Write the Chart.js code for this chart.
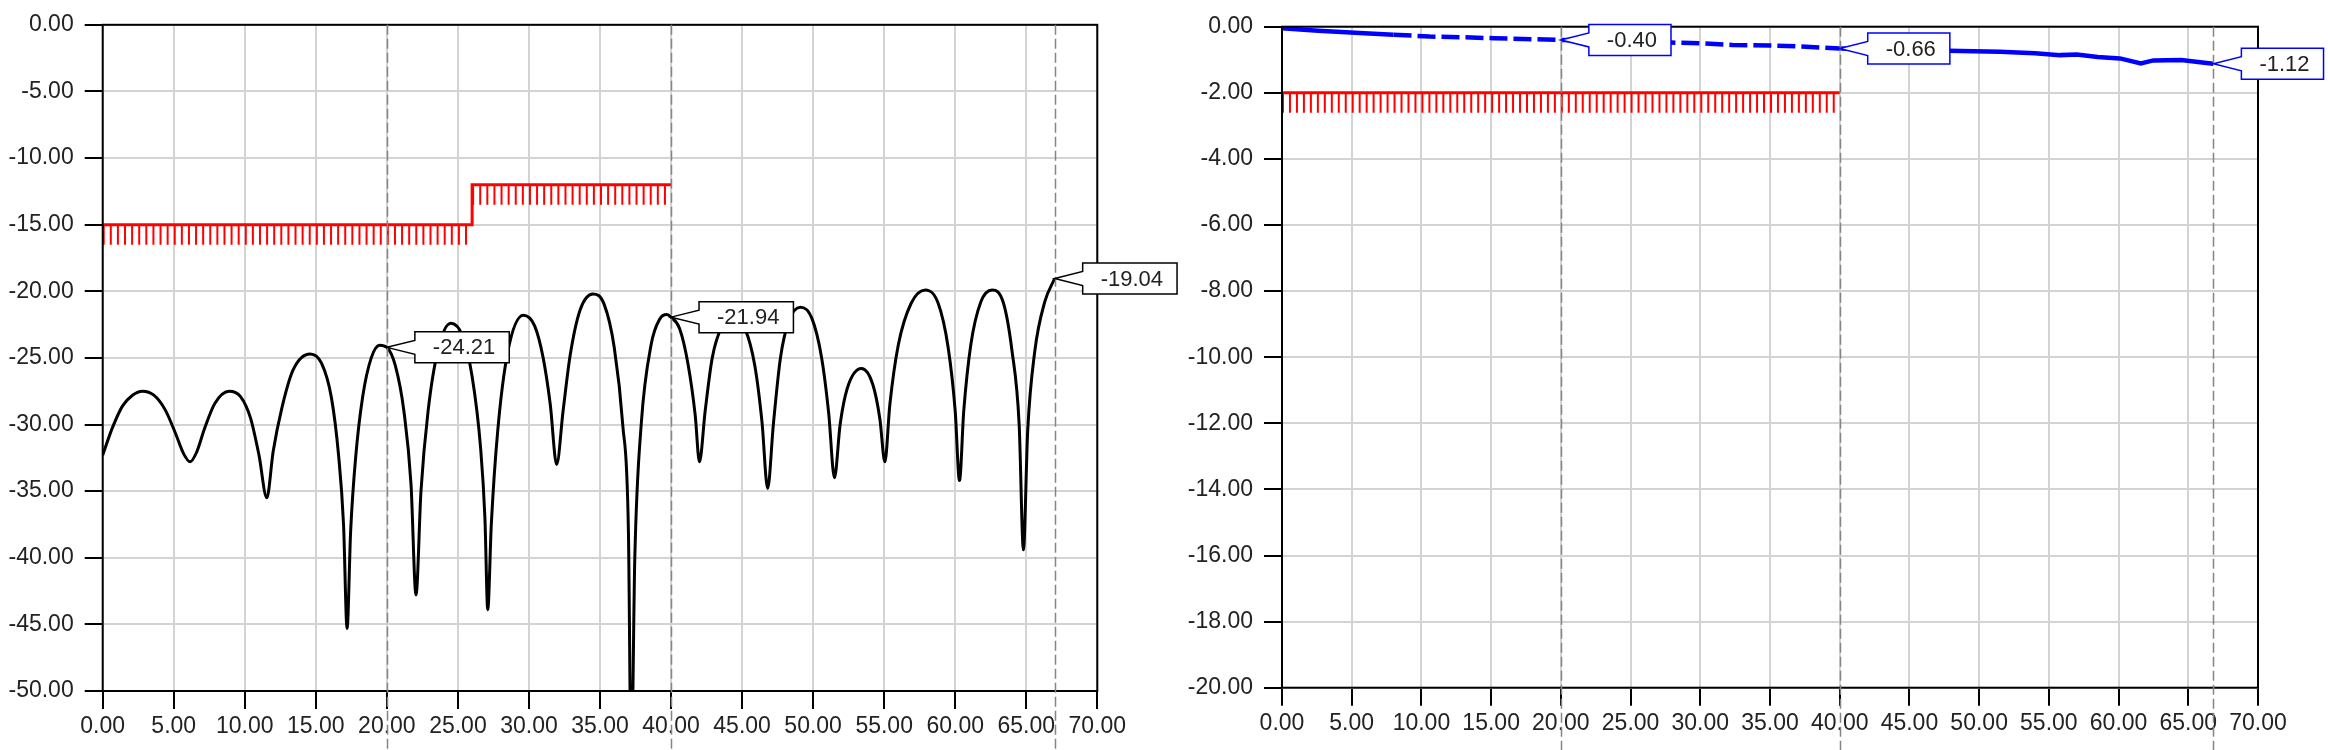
<!DOCTYPE html>
<html>
<head>
<meta charset="utf-8">
<script src="https://cdn.jsdelivr.net/npm/chart.js@4.4.0/dist/chart.umd.min.js"></script>
<style>
  body { margin: 0; background: #fff; }
  #wrap { position: relative; width: 2328px; height: 750px; overflow: hidden; }
  #left { position: absolute; left: 0; top: 0; }
  #right { position: absolute; left: 1180px; top: 0; }
</style>
</head>
<body>
<div id="wrap">
  <canvas id="left" width="1180" height="750"></canvas>
  <canvas id="right" width="1148" height="750"></canvas>
</div>
<script>
// ---- data ----

// shared x axis (frequency)
var freqTicks = [0, 5, 10, 15, 20, 25, 30, 35, 40, 45, 50, 55, 60, 65, 70];

// left chart (black trace + red mask)
var rlTicks = [0, -5, -10, -15, -20, -25, -30, -35, -40, -45, -50];
var rlFreq = [
  0, 0.7, 1.4, 2.1, 2.8, 3.6, 4.4, 5.1, 5.7, 6.15,
  6.6, 7.2, 7.9, 8.9, 9.7, 10.4, 11.0, 11.55,
  12.0, 12.6, 13.4, 14.6, 15.4, 16.1, 16.6, 16.95, 17.2,
  17.45, 17.8, 18.3, 18.9, 19.5, 20.0, 20.6, 21.2, 21.7, 22.05,
  22.4, 22.9, 23.6, 24.5, 25.3, 26.0, 26.6, 26.9, 27.1,
  27.35, 27.8, 28.5, 29.6, 30.4, 31.0, 31.5, 31.95,
  32.4, 32.9, 33.6, 34.5, 35.3, 36.0, 36.6, 37.0, 37.2,
  37.45, 37.9, 38.6, 39.2, 39.7, 40.0, 40.6, 41.2, 41.7, 42.0,
  42.4, 42.9, 43.6, 44.4, 45.2, 45.9, 46.4, 46.8,
  47.2, 47.7, 48.3, 49.1, 49.9, 50.6, 51.1, 51.5,
  51.9, 52.4, 53.4, 54.2, 54.7, 55.05,
  55.4, 56.0, 56.9, 57.9, 58.8, 59.5, 60.0, 60.3,
  60.6, 61.1, 61.8, 62.6, 63.4, 64.0, 64.5, 64.8,
  65.1, 65.6, 66.3, 67.0
];
var rlValue = [
  -32.3, -30.2, -28.6, -27.8, -27.5, -27.8, -28.9, -30.6, -32.2, -32.8,
  -32.1, -30.2, -28.4, -27.5, -27.9, -29.5, -32.3, -35.5,
  -32.0, -28.8, -25.9, -24.7, -25.4, -28.0, -32.3, -37.5, -45.3,
  -38.0, -32.5, -27.9, -25.0, -24.05, -24.21, -25.6, -29.0, -34.5, -42.8,
  -35.0, -29.0, -24.4, -22.4, -23.3, -26.4, -31.8, -37.0, -43.9,
  -37.5, -30.5, -24.6, -21.8, -22.6, -25.0, -28.5, -33.0,
  -29.0, -24.8, -21.4, -20.2, -21.0, -24.2, -30.0, -38.0, -56.0,
  -40.0, -30.0, -24.0, -22.1, -21.75, -21.94, -22.8, -25.5, -29.3, -32.8,
  -29.0, -25.0, -22.6, -22.0, -22.8, -25.6, -29.8, -34.8,
  -30.0, -25.0, -22.2, -21.2, -22.0, -25.0, -29.2, -34.0,
  -30.0, -27.3, -25.8, -27.0, -29.6, -32.8,
  -28.5, -24.0, -20.9, -19.9, -20.9, -24.2, -29.0, -34.2,
  -29.0, -24.0, -20.8, -19.9, -20.9, -24.5, -30.0, -39.4,
  -30.5, -24.5, -20.8, -19.04
];
var rlMaskFreq = [0, 26, 26, 40];
var rlMaskValue = [-15, -15, -12, -12];
var rlMarkerFreq = [20, 40, 67];
var rlMarkerValue = [-24.21, -21.94, -19.04];

// right chart (blue trace + red mask)
var ilTicks = [0, -2, -4, -6, -8, -10, -12, -14, -16, -18, -20];
var ilFreq = [
  0, 2.6, 5.9, 8, 10.6, 13, 15.2, 18, 20, 24, 27.9, 30, 32.3, 35, 37.2,
  40, 43, 47.8, 51.5, 54, 55.8, 57, 58.5, 60.1, 61.6, 62.5, 64.5, 66, 66.8
];
var ilValue = [
  -0.05, -0.12, -0.20, -0.24, -0.30, -0.32, -0.35, -0.38, -0.40, -0.44, -0.48, -0.50, -0.55, -0.57, -0.60,
  -0.66, -0.69, -0.73, -0.76, -0.80, -0.86, -0.84, -0.92, -0.96, -1.11, -1.02, -1.01, -1.08, -1.12
];
var ilMaskFreq = [0, 40];
var ilMaskValue = [-2, -2];
var ilMarkerFreq = [20, 40, 66.8];
var ilMarkerValue = [-0.40, -0.66, -1.12];


var FONT = '"Liberation Sans", Arial, sans-serif';
Chart.defaults.font.family = FONT;

function zip(xs, ys) {
  return xs.map(function (x, i) { return { x: x, y: ys[i] }; });
}

// hatches under the mask, frame, dashed markers and callouts
function decor(maskX, maskY, markX, markY, boxColor) {
  return {
    id: 'decor',
    afterDatasetsDraw: function (chart) {
      var ctx = chart.ctx;
      var area = chart.chartArea;
      var xs = chart.scales.x;
      var ys = chart.scales.y;

      ctx.save();
      ctx.beginPath();
      ctx.rect(area.left, area.top, area.right - area.left, area.bottom - area.top);
      ctx.clip();
      ctx.strokeStyle = '#ff0000';
      ctx.lineWidth = 2;
      for (var i = 0; i < maskX.length - 1; i++) {
        if (maskY[i] !== maskY[i + 1]) continue;
        var py = ys.getPixelForValue(maskY[i]);
        for (var f = maskX[i]; f < maskX[i + 1] - 0.01; f += 0.5) {
          var px = xs.getPixelForValue(f) + 1;
          ctx.beginPath();
          ctx.moveTo(px, py);
          ctx.lineTo(px, py + 20);
          ctx.stroke();
        }
      }
      ctx.restore();

      // frame
      ctx.save();
      ctx.strokeStyle = '#000';
      ctx.lineWidth = 2;
      ctx.strokeRect(area.left, area.top, area.right - area.left, area.bottom - area.top);
      ctx.restore();

      // dashed marker lines
      ctx.save();
      ctx.strokeStyle = '#858585';
      ctx.lineWidth = 1.5;
      ctx.setLineDash([10, 4]);
      markX.forEach(function (m) {
        var px = Math.round(xs.getPixelForValue(m)) + 0.5;
        ctx.beginPath();
        ctx.moveTo(px, area.top);
        ctx.lineTo(px, chart.height);
        ctx.stroke();
      });
      ctx.restore();

      // callouts
      ctx.save();
      ctx.font = '22px ' + FONT;
      markX.forEach(function (m, k) {
        var px = xs.getPixelForValue(m);
        var py = ys.getPixelForValue(markY[k]);
        var txt = markY[k].toFixed(2);
        var bw = ctx.measureText(txt).width + 32;
        var bh = 31;
        var bx = px + 28;
        var by = py - bh / 2;
        ctx.beginPath();
        ctx.moveTo(bx, py - 7);
        ctx.lineTo(bx, by);
        ctx.lineTo(bx + bw, by);
        ctx.lineTo(bx + bw, by + bh);
        ctx.lineTo(bx, by + bh);
        ctx.lineTo(bx, py + 7);
        ctx.lineTo(px, py);
        ctx.closePath();
        ctx.fillStyle = '#fff';
        ctx.fill();
        ctx.strokeStyle = boxColor;
        ctx.lineWidth = 1.5;
        ctx.stroke();
        ctx.fillStyle = '#222';
        ctx.textAlign = 'center';
        ctx.textBaseline = 'middle';
        ctx.fillText(txt, bx + bw / 2 + 2, py + 1);
      });
      ctx.restore();
    }
  };
}

function axisX(height) {
  return {
    type: 'linear',
    min: 0,
    max: 70,
    afterBuildTicks: function (s) { s.ticks = freqTicks.map(function (v) { return { value: v }; }); },
    afterFit: function (s) { s.height = height; },
    ticks: {
      autoSkip: false,
      maxRotation: 0,
      padding: 4,
      color: '#222',
      font: { size: 23 },
      callback: function (v) { return Number(v).toFixed(2); }
    },
    grid: { color: '#d3d3d3', lineWidth: 2, tickColor: '#000', tickLength: 18, tickWidth: 2 },
    border: { display: false }
  };
}

function axisY(ticks, width) {
  return {
    min: ticks[ticks.length - 1],
    max: ticks[0],
    afterBuildTicks: function (s) { s.ticks = ticks.map(function (v) { return { value: v }; }); },
    afterFit: function (s) { s.width = width; },
    ticks: {
      padding: 11,
      color: '#222',
      font: { size: 23 },
      callback: function (v) { return Number(v).toFixed(2); }
    },
    grid: { color: '#d3d3d3', lineWidth: 2, tickColor: '#000', tickLength: 18, tickWidth: 2 },
    border: { display: false }
  };
}


var leftChart = new Chart(document.getElementById('left').getContext('2d'), {
  type: 'line',
  data: {
    datasets: [{
      data: zip(rlFreq, rlValue),
      borderColor: '#000',
      borderWidth: 3,
      pointRadius: 0,
      cubicInterpolationMode: 'monotone'
    }, {
      data: zip(rlMaskFreq, rlMaskValue),
      borderColor: '#ff0000',
      borderWidth: 3,
      pointRadius: 0,
      tension: 0
    }]
  },
  options: {
    responsive: false,
    animation: false,
    devicePixelRatio: 1,
    layout: { padding: { top: 20, right: 82.7, left: 0, bottom: 0 } },
    plugins: { legend: { display: false }, tooltip: { enabled: false } },
    scales: {
      x: axisX(59),
      y: axisY(rlTicks, 102.7)
    }
  },
  plugins: [decor(rlMaskFreq, rlMaskValue, rlMarkerFreq, rlMarkerValue, '#000')]
});

var rightChart = new Chart(document.getElementById('right').getContext('2d'), {
  type: 'line',
  data: {
    datasets: [{
      data: zip(ilFreq, ilValue),
      borderColor: '#0000ff',
      borderWidth: 4.5,
      pointRadius: 0,
      tension: 0,
      segment: {
        borderDash: function (ctx) {
          var x = ctx.p0.parsed.x;
          return (x >= 8 && x < 40) ? [18, 6] : undefined;
        }
      }
    }, {
      data: zip(ilMaskFreq, ilMaskValue),
      borderColor: '#ff0000',
      borderWidth: 3,
      pointRadius: 0,
      tension: 0
    }]
  },
  options: {
    responsive: false,
    animation: false,
    devicePixelRatio: 1,
    layout: { padding: { top: 26.7, right: 70, left: 0, bottom: 0 } },
    plugins: { legend: { display: false }, tooltip: { enabled: false } },
    scales: {
      x: axisX(62.3),
      y: axisY(ilTicks, 102)
    }
  },
  plugins: [decor(ilMaskFreq, ilMaskValue, ilMarkerFreq, ilMarkerValue, '#0000ff')]
});
</script>
</body>
</html>
